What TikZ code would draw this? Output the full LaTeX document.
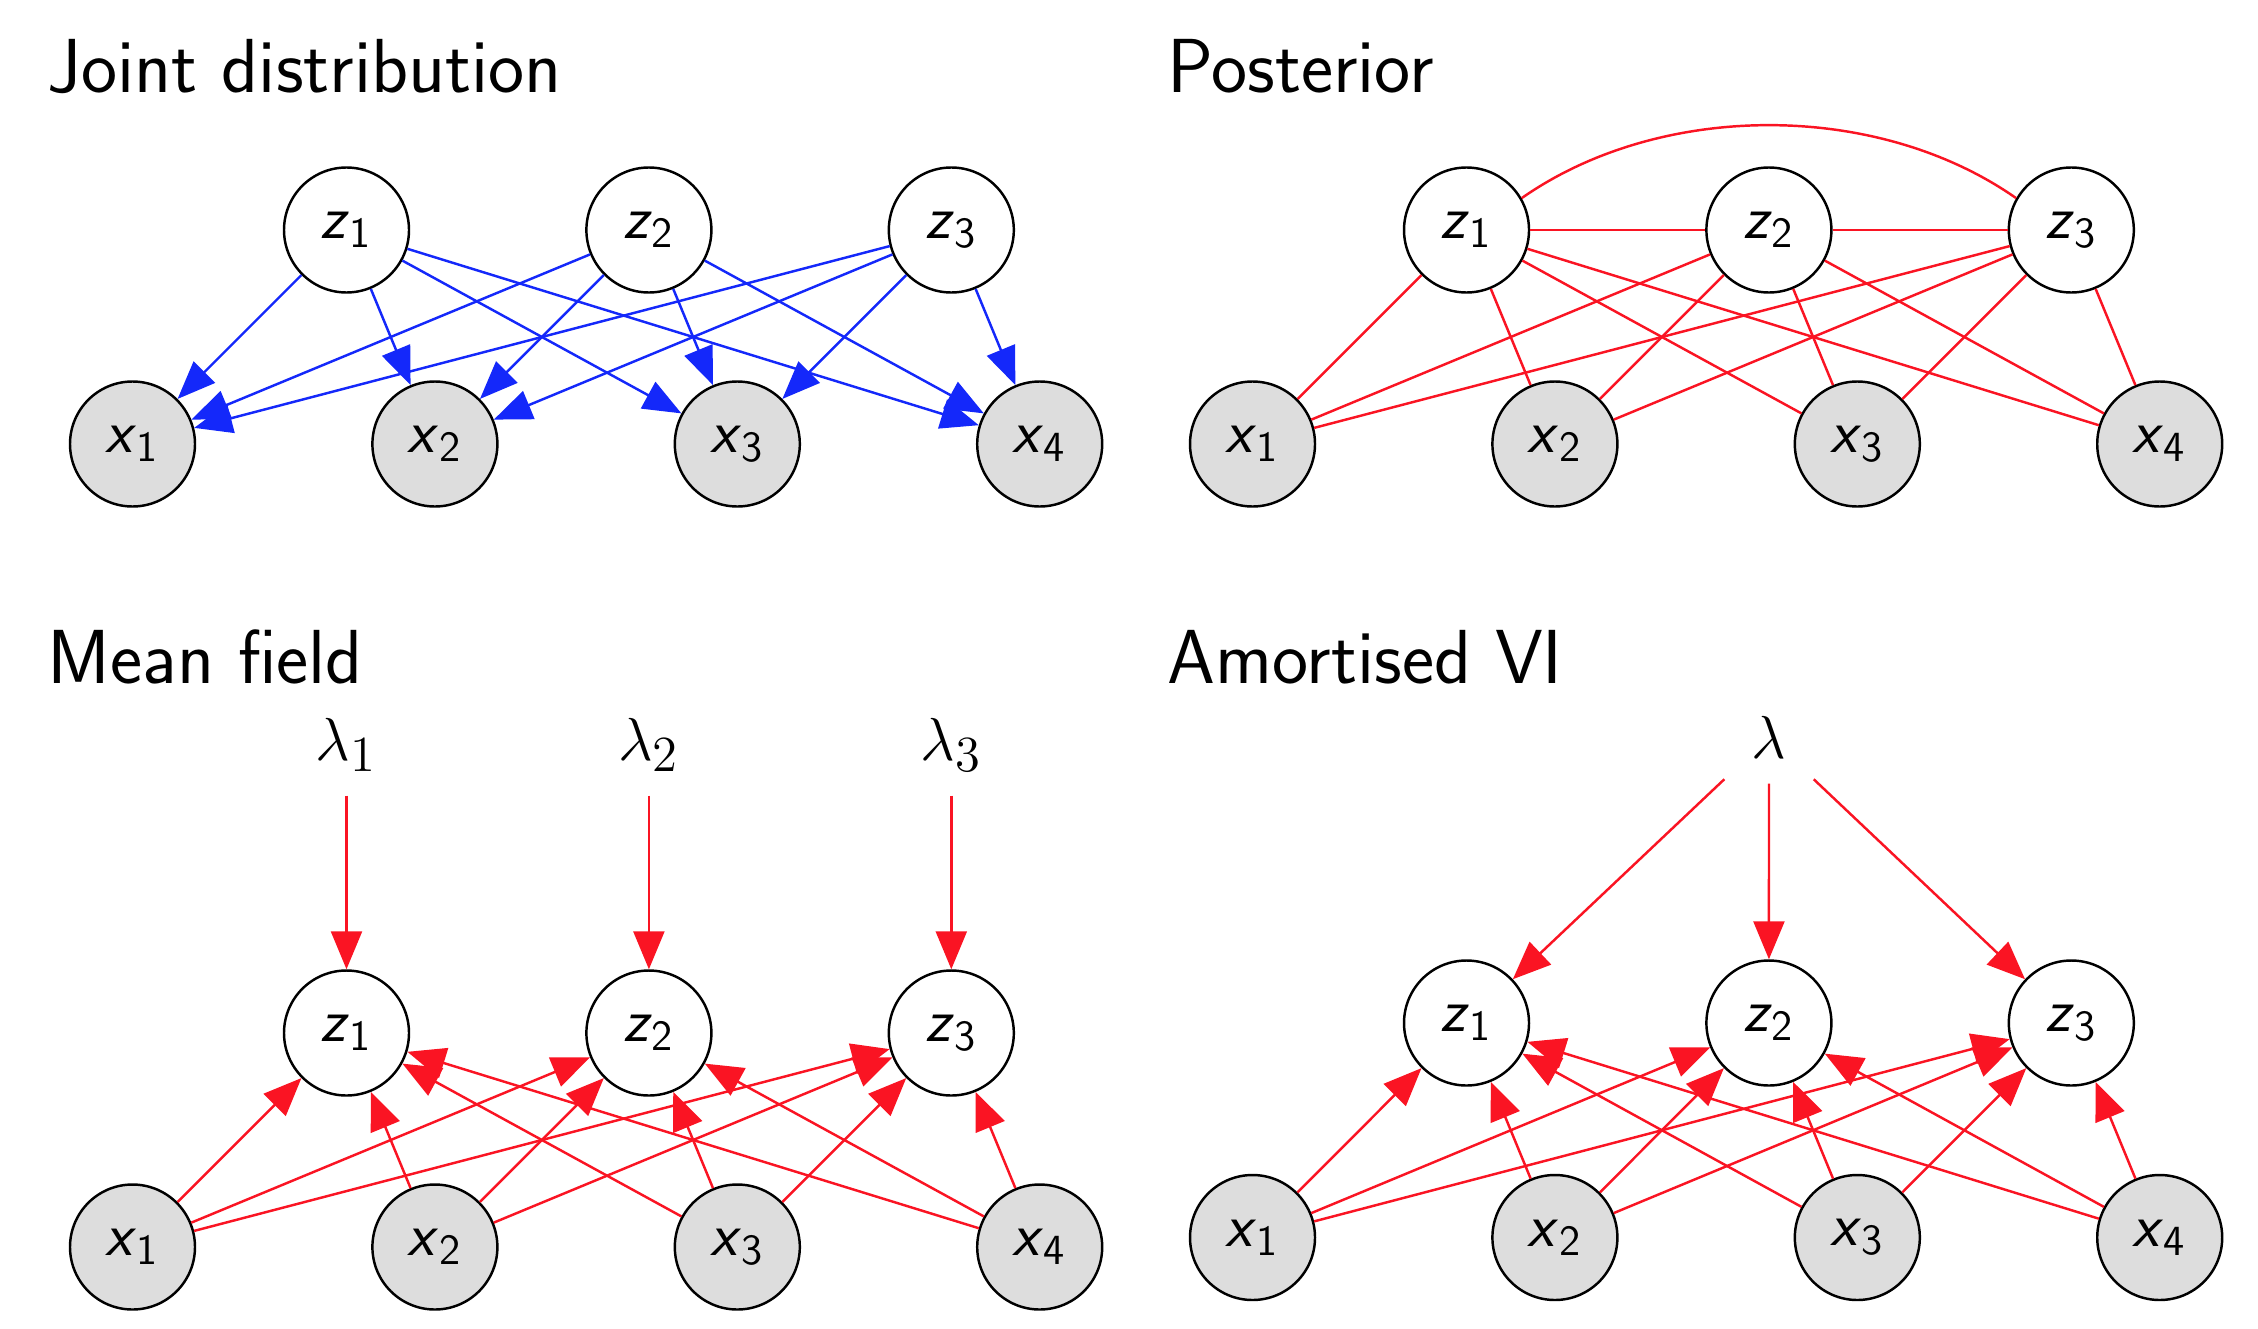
\documentclass[tikz,border=0pt]{standalone}
\usepackage{amsmath}
\usetikzlibrary{arrows.meta}
\definecolor{edgeblue}{RGB}{20,40,250}
\definecolor{edgered}{RGB}{250,20,35}
\definecolor{obsgray}{RGB}{221,221,221}
\tikzset{
	latent/.style={draw, circle, line width=0.7pt, minimum size=1.25cm, inner sep=0pt, font=\fontsize{17.5}{20}\selectfont},
	observed/.style={latent, fill=obsgray},
	param/.style={rectangle, minimum width=0.9cm, minimum height=1cm, inner sep=0pt, font=\fontsize{19}{22}\selectfont},
	paneltitle/.style={anchor=base west, inner sep=0pt, font=\sffamily\fontsize{21.8}{25}\selectfont},
	blue arrow/.style={edgeblue, line width=0.7pt, -{Triangle[length=0.38cm,width=0.3cm]}},
	red arrow/.style={edgered, line width=0.7pt, -{Triangle[length=0.38cm,width=0.31cm]}},
	red line/.style={edgered, line width=0.7pt},
}
\newcommand{\rv}[2]{$\textsf{\textsl{#1}}_{\textsf{#2}}$}
\begin{document}
		\begin{tikzpicture}
			\useasboundingbox (0,0) rectangle (22.58,-13.28);
			
			% titles
			\node[paneltitle] (tjoint) at (0.47,-0.93) {Joint distribution};
			\node[paneltitle] (tpost) at (11.67,-0.93) {Posterior};
			\node[paneltitle] (tmean) at (0.47,-6.83) {Mean field};
			\node[paneltitle] (tamort) at (11.67,-6.83) {Amortised VI};
			
			% joint distribution
			\foreach \i in {1,2,3} \node[latent] (jz\i) at ({3.465+3.024*(\i-1)},-2.30) {\rv{z}{\i}};
			\foreach \j in {1,...,4} \node[observed] (jx\j) at ({1.325+3.024*(\j-1)},-4.44) {\rv{x}{\j}};
			\foreach \i in {1,2,3} \foreach \j in {1,...,4} \draw[blue arrow] (jz\i) -- (jx\j);
			
			% posterior
			\foreach \i in {1,2,3} \node[latent] (pz\i) at ({14.665+3.024*(\i-1)},-2.30) {\rv{z}{\i}};
			\foreach \j in {1,...,4} \node[observed] (px\j) at ({12.525+3.024*(\j-1)},-4.44) {\rv{x}{\j}};
			\draw[red line] (pz1) -- (pz2);
			\draw[red line] (pz2) -- (pz3);
			\draw[red line] (pz1.30) to[out=35,in=145,looseness=0.88] (pz3.150);
			\foreach \i in {1,2,3} \foreach \j in {1,...,4} \draw[red line] (pz\i) -- (px\j);
			
			% mean field
			\foreach \i in {1,2,3} {
				\node[param] (ml\i) at ({3.465+3.024*(\i-1)},-7.45) {$\lambda_\i$};
				\node[latent] (mz\i) at ({3.465+3.024*(\i-1)},-10.33) {\rv{z}{\i}};
				\draw[red arrow] (ml\i) -- (mz\i);
			}
			\foreach \j in {1,...,4} \node[observed] (mx\j) at ({1.325+3.024*(\j-1)},-12.47) {\rv{x}{\j}};
			\foreach \i in {1,2,3} \foreach \j in {1,...,4} \draw[red arrow] (mx\j) -- (mz\i);
			
			% amortised VI
			\node[param, minimum width=0.88cm, minimum height=0.92cm] (al) at (17.69,-7.37) {$\lambda$};
			\foreach \i in {1,2,3} {
				\node[latent] (az\i) at ({14.665+3.024*(\i-1)},-10.23) {\rv{z}{\i}};
				\draw[red arrow] (al) -- (az\i);
			}
			\foreach \j in {1,...,4} \node[observed] (ax\j) at ({12.525+3.024*(\j-1)},-12.375) {\rv{x}{\j}};
			\foreach \i in {1,2,3} \foreach \j in {1,...,4} \draw[red arrow] (ax\j) -- (az\i);
			
		\end{tikzpicture}
\end{document}
